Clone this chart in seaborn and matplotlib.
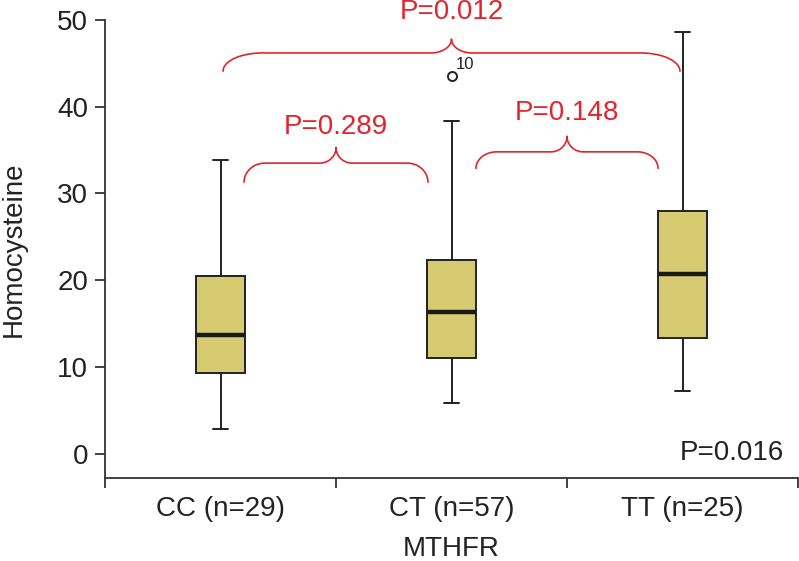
import numpy as np
import pandas as pd
import matplotlib
matplotlib.use("Agg")
import matplotlib.pyplot as plt
import seaborn as sns

# five-number summaries
groups = ["CC (n=29)", "CT (n=57)", "TT (n=25)"]
lower_whisker = [2.8, 5.8, 7.25]
q1 = [9.25, 11.0, 13.3]
median = [13.7, 16.3, 20.7]
q3 = [20.5, 22.35, 28.0]
upper_whisker = [33.9, 38.3, 48.6]
outliers = [[], [43.5], []]
outlier_labels = [[], ["10"], []]

# pairwise comparisons: (left group, right group, p text)
pairs_left = [0, 1, 0]
pairs_right = [1, 2, 2]
pairs_text = ["P=0.289", "P=0.148", "P=0.012"]
overall_p = "P=0.016"

# build a small sample per group whose quartiles/whiskers match the summary
rows = []
for i, g in enumerate(groups):
    vals = [lower_whisker[i], q1[i], q1[i], median[i], median[i],
            q3[i], q3[i], upper_whisker[i]] + outliers[i]
    rows += [(g, v) for v in vals]
df = pd.DataFrame(rows, columns=["MTHFR", "Homocysteine"])

sns.set_style("ticks")
plt.rcParams["font.family"] = ["Liberation Sans", "DejaVu Sans"]

dark = "#222222"
red = "#E2252C"
box_color = "#D6CB70"
fs = 20

fig = plt.figure(figsize=(7.99, 5.61), dpi=100)
ax = fig.add_axes([105 / 799, 1 - 478 / 561, 693 / 799, 458 / 561])

sns.boxplot(data=df, x="MTHFR", y="Homocysteine", ax=ax, color=box_color,
            saturation=1, width=0.216, whis=1.5, linewidth=1.4, linecolor=dark,
            medianprops=dict(linewidth=3.2, color="#1a1a1a"),
            flierprops=dict(marker="o", markersize=6.5, markerfacecolor="none",
                            markeredgecolor=dark, markeredgewidth=1.4),
            capwidths=0.065)

ax.set_xlim(-0.5, 2.5)
ax.set_ylim(-2.8, 50)
ax.set_yticks([0, 10, 20, 30, 40, 50])
sns.despine(ax=ax)
for s in ["left", "bottom"]:
    ax.spines[s].set_linewidth(1.3)
    ax.spines[s].set_color("#333333")

ax.tick_params(axis="y", length=7, width=1.3, color="#333333", labelsize=fs,
               labelcolor=dark, pad=5)
ax.tick_params(axis="x", which="major", length=0, labelsize=fs,
               labelcolor=dark, pad=13)
ax.set_xticks([-0.5, 0.5, 1.5, 2.5], minor=True)
ax.tick_params(axis="x", which="minor", length=7, width=1.3, color="#333333")
ax.set_xlabel("MTHFR", fontsize=fs, color=dark, labelpad=10)
ax.set_ylabel("Homocysteine", fontsize=fs, color=dark)
ax.yaxis.set_label_coords(-0.113, 0.5)


def brace(x0, x1, y_end, y_h, y_peak, rx, rx2):
    xm = (x0 + x1) / 2
    t = np.linspace(0, np.pi / 2, 30)
    lx = x0 + rx * (1 - np.cos(t))
    ly = y_end + (y_h - y_end) * np.sin(t)
    mx = xm - rx2 + rx2 * np.sin(t)
    my = y_h + (y_peak - y_h) * (1 - np.cos(t))
    xs = np.concatenate([lx, mx, (2 * xm - mx)[::-1], (2 * xm - lx)[::-1]])
    ys = np.concatenate([ly, my, my[::-1], ly[::-1]])
    ax.plot(xs, ys, color=red, lw=1.2, clip_on=False, solid_capstyle="round")
    return xm


# brace geometry per pair (data units)
brace_inset = [0.102, 0.106, 0.011]
brace_end = [31.3, 32.9, 44.1]
brace_flat = [33.5, 34.8, 46.2]
brace_peak = [35.3, 36.6, 47.8]
brace_rx = [0.09, 0.09, 0.17]
brace_rx2 = [0.07, 0.07, 0.09]
text_y = [37.7, 39.3, 50.9]
for k in range(3):
    xm = brace(pairs_left[k] + brace_inset[k], pairs_right[k] - brace_inset[k],
               brace_end[k], brace_flat[k], brace_peak[k], brace_rx[k], brace_rx2[k])
    ax.text(xm, text_y[k], pairs_text[k], color=red, fontsize=fs,
            ha="center", va="center", clip_on=False)

for i, labs in enumerate(outlier_labels):
    for v, lab in zip(outliers[i], labs):
        ax.text(i + 0.058, v + 1.4, lab, fontsize=12, color=dark,
                ha="center", va="center")

ax.text(2.214, 0.1, overall_p, fontsize=fs, color=dark, ha="center", va="center")

fig.savefig("out.png", dpi=100)
